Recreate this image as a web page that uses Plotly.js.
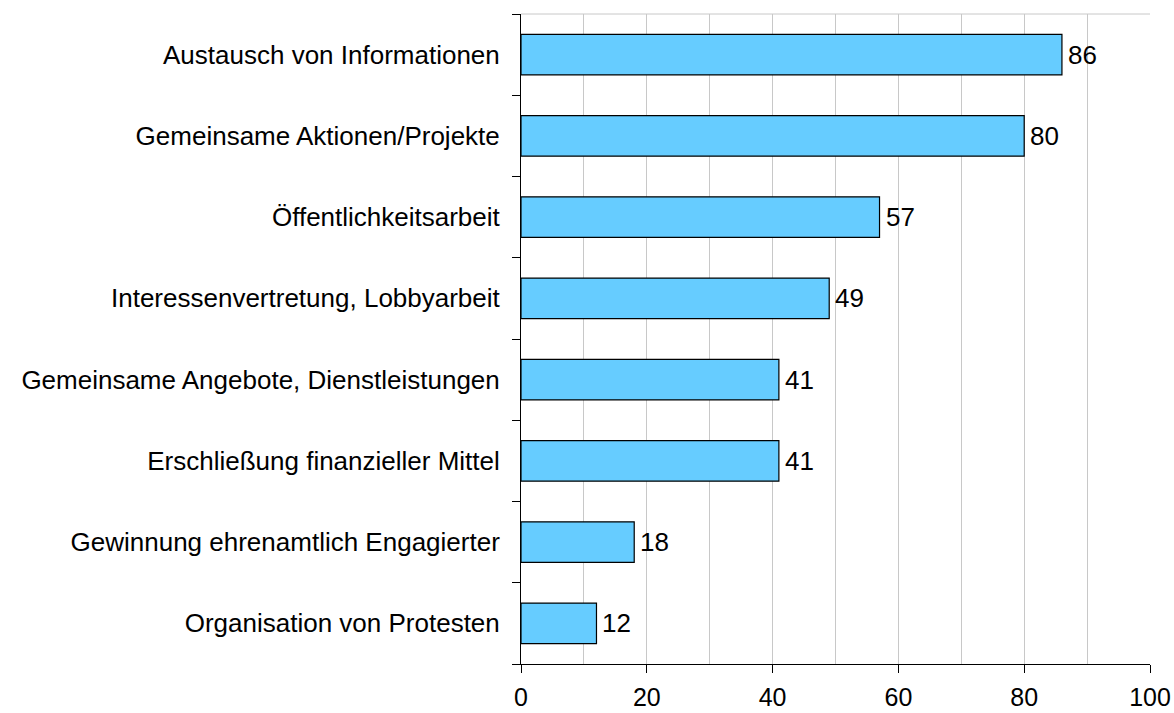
<!DOCTYPE html>
<html>
<head>
<meta charset="utf-8">
<script src="https://cdn.plot.ly/plotly-3.0.1.min.js"></script>
<style>html,body{margin:0;padding:0;background:#fff;}#chart{width:1174px;height:713px;}</style>
</head>
<body>
<div id="chart"></div>
<script>
const categories = [
  "Austausch von Informationen",
  "Gemeinsame Aktionen/Projekte",
  "Öffentlichkeitsarbeit",
  "Interessenvertretung, Lobbyarbeit",
  "Gemeinsame Angebote, Dienstleistungen",
  "Erschließung finanzieller Mittel",
  "Gewinnung ehrenamtlich Engagierter",
  "Organisation von Protesten"
];
const values = [86, 80, 57, 49, 41, 41, 18, 12];
const valueLabels = ["86", "80", "57", "49", "41", "41", "18", "12"];
const xTickValues = [0, 20, 40, 60, 80, 100];
const xTickLabels = ["0", "20", "40", "60", "80", "100"];

const font = {family: "Liberation Sans, Arial, sans-serif", size: 26, color: "#000"};
const xFont = {family: "Liberation Sans, Arial, sans-serif", size: 25, color: "#000"};

const trace = {
  type: "bar",
  orientation: "h",
  y: categories,
  x: values,
  width: 0.5,
  marker: {color: "#66CCFF", line: {color: "#000", width: 1.2}},
  hoverinfo: "none"
};

const annotations = categories.map((c, i) => ({
  x: values[i], y: c, xref: "x", yref: "y",
  text: valueLabels[i], showarrow: false,
  xanchor: "left", yanchor: "middle", xshift: 4,
  font: font
}));

const layout = {
  width: 1174, height: 713,
  margin: {l: 521, r: 24, t: 14, b: 49},
  paper_bgcolor: "#fff", plot_bgcolor: "#fff",
  font: font,
  showlegend: false,
  xaxis: {
    range: [0, 100],
    tickvals: xTickValues, ticktext: xTickLabels,
    ticks: "outside", ticklen: 8, tickwidth: 1, tickcolor: "#000",
    showline: true, linecolor: "#000", linewidth: 1,
    showgrid: true, gridcolor: "#c8c8c8", gridwidth: 1,
    minor: {dtick: 10, tick0: 0, showgrid: true, gridcolor: "#c8c8c8", gridwidth: 1, ticks: ""},
    zeroline: false,
    tickfont: xFont,
    ticklabelstandoff: 3,
    fixedrange: true
  },
  yaxis: {
    categoryorder: "array", categoryarray: categories.slice().reverse(),
    autorange: false, range: [-0.5, categories.length - 0.5],
    ticks: "outside", tickson: "boundaries", ticklen: 8, tickwidth: 1, tickcolor: "#000",
    showline: true, linecolor: "#000", linewidth: 1,
    showgrid: false, zeroline: false,
    tickfont: font,
    ticklabelstandoff: 15,
    fixedrange: true
  },
  shapes: [
    {type: "line", xref: "x", yref: "paper", x0: 0, x1: 100, y0: 1, y1: 1,
     line: {color: "#c8c8c8", width: 1}}
  ],
  annotations: annotations
};

Plotly.newPlot("chart", [trace], layout, {displayModeBar: false, staticPlot: true});
</script>
</body>
</html>
